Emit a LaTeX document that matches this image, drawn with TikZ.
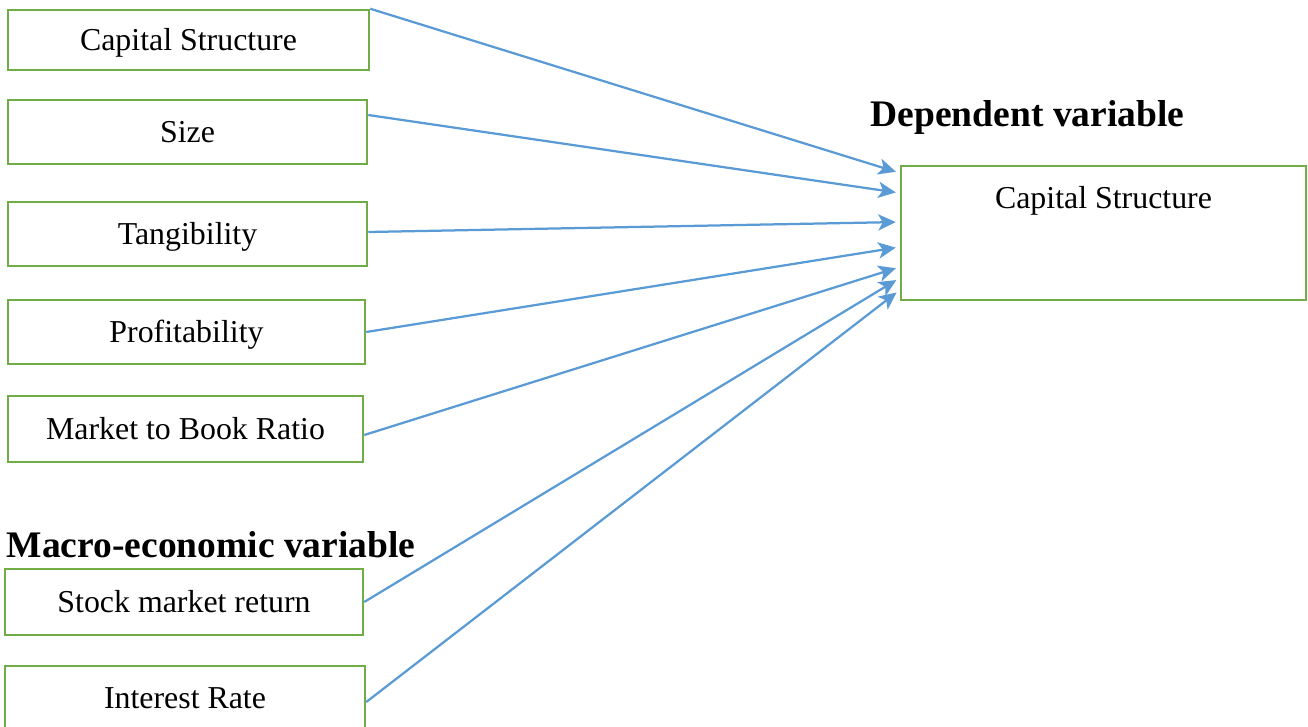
\documentclass[tikz,border=0pt]{standalone}
\usepackage{fontspec}
\setmainfont{Liberation Serif}
\usetikzlibrary{arrows.meta}

\begin{document}
\begin{tikzpicture}[x=0.4pt, y=-0.4pt,
    varbox/.style={draw=boxgreen, line width=1pt, inner sep=0pt,
        text height=8.5pt, text depth=0pt,
        font=\fontsize{12.75}{15}\selectfont},
    heading/.style={font=\fontsize{15}{18}\selectfont\bfseries, inner sep=0pt},
    link/.style={draw=linkblue, line width=0.9pt,
        -{Stealth[length=7pt, width=6.5pt, inset=1.8pt]}, shorten >=1.6pt}]

    \definecolor{boxgreen}{RGB}{112,173,71}
    \definecolor{linkblue}{RGB}{91,155,213}

    \useasboundingbox (0,0) rectangle (1308,727);

    \node[varbox, minimum width=144.4pt, minimum height=24pt]   (cs)   at (188.5,40)  {Capital Structure};
    \node[varbox, minimum width=143.6pt, minimum height=25.6pt] (size) at (187.5,132) {Size};
    \node[varbox, minimum width=143.6pt, minimum height=25.6pt] (tang) at (187.5,234) {Tangibility};
    \node[varbox, minimum width=142.8pt, minimum height=25.6pt] (prof) at (186.5,332) {Profitability};
    \node[varbox, minimum width=142pt,   minimum height=26.4pt] (mtb)  at (185.5,429) {Market to Book Ratio};

    \node[heading] (macro) at (211,545) {Macro-economic variable};
    \node[varbox, minimum width=143.2pt, minimum height=26.4pt] (smr) at (184,602) {Stock market return};
    \node[varbox, minimum width=144pt,   minimum height=25.6pt] (ir)  at (185,698) {Interest Rate};

    \node[heading] (deplabel) at (1027.5,117) {Dependent variable};
    \node[varbox, minimum width=162pt, minimum height=53.6pt] (dep) at (1103.5,233) {};
    \node[font=\fontsize{12.75}{15}\selectfont, text height=8.5pt, text depth=0pt] (deptext) at (1103.5,198) {Capital Structure};

    \draw[link] (cs.north east)           -- ([yshift=24pt]dep.west);
    \draw[link] ([yshift=6.8pt]size.east) -- ([yshift=16pt]dep.west);
    \draw[link] ([yshift=0.8pt]tang.east) -- ([yshift=4.4pt]dep.west);
    \draw[link] (prof.east)               -- ([yshift=-5.6pt]dep.west);
    \draw[link] ([yshift=-2.4pt]mtb.east) -- ([yshift=-13.6pt]dep.west);
    \draw[link] (smr.east)                -- ([yshift=-18pt]dep.west);
    \draw[link] ([yshift=-1.6pt]ir.east)  -- ([yshift=-22.8pt]dep.west);
\end{tikzpicture}
\end{document}
